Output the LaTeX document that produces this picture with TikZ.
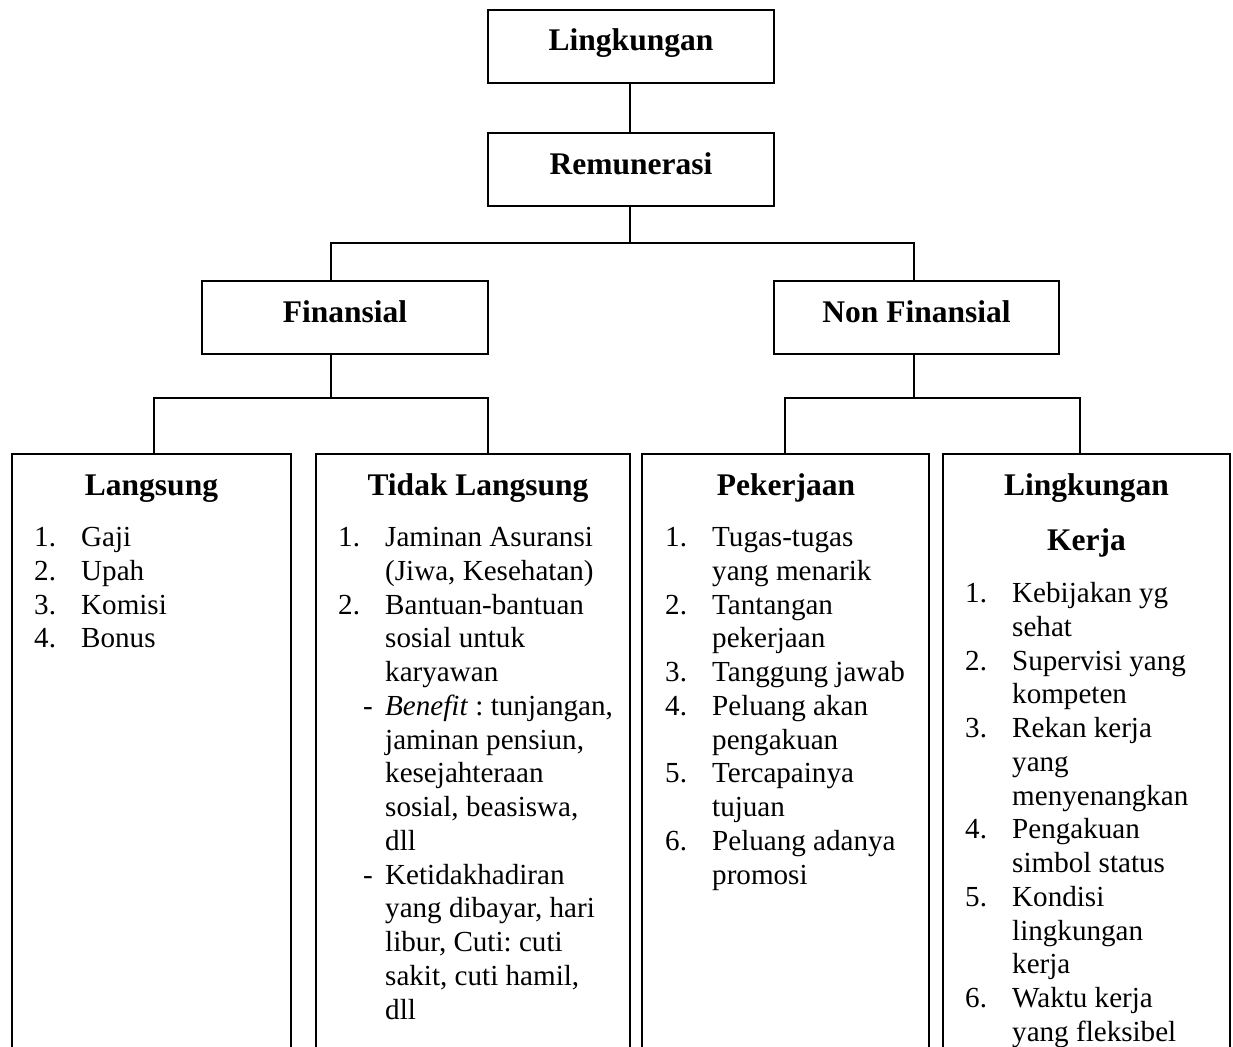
\documentclass[tikz,border=0pt]{standalone}
\usepackage{fontspec}
\setmainfont{Liberation Serif}
\frenchspacing
\newcommand{\headfont}{\fontsize{31.5pt}{36pt}\selectfont\bfseries}
\newcommand{\bodyfont}{\fontsize{29.1pt}{33.75pt}\selectfont\frenchspacing}
\newcommand{\nit}[2]{\makebox[47pt][l]{#1}#2}
\newcommand{\cit}[1]{\hspace*{47pt}#1}
\newcommand{\dit}[1]{\makebox[47pt][l]{\hspace*{25pt}-}#1}
\tikzset{
  box/.style={draw, line width=2pt, inner sep=0pt, outer sep=0pt,
    minimum width=286pt, minimum height=73pt, font=\headfont,
    text height=20.9pt, text depth=11.9pt},
  col/.style={draw, line width=2pt, inner sep=0pt, outer sep=0pt,
    anchor=north west, minimum height=640pt},
  conn/.style={line width=2pt},
  ttl/.style={anchor=base, inner sep=0pt, font=\headfont},
  lst/.style={anchor=base west, inner sep=0pt, font=\bodyfont},
}
\begin{document}
\begin{tikzpicture}[x=1pt, y=-1pt]
\useasboundingbox (0,0) rectangle (1233,1046);
\clip (0,0) rectangle (1233,1046);

% top boxes
\node[box] (ling) at (631,46.5) {Lingkungan};
\node[box] (rem) at (631,169.5) {Remunerasi};
\node[box] (fin) at (345,317.5) {Finansial};
\node[box, minimum width=285pt] (nonfin) at (916.5,317.5) {Non Finansial};

% bottom columns
\node[col, minimum width=279pt] (lang) at (12,454) {};
\node[col, minimum width=314pt] (tl) at (316,454) {};
\node[col, minimum width=287pt] (pek) at (642,454) {};
\node[col, minimum width=287pt] (lk) at (943,454) {};

% junction coordinates
\coordinate (b1) at (630,243);
\coordinate (b1L) at (331,243);
\coordinate (b1R) at (914,243);
\coordinate (bF) at (331,398);
\coordinate (bFL) at (154,398);
\coordinate (bFR) at (488,398);
\coordinate (bN) at (914,398);
\coordinate (bNL) at (785,398);
\coordinate (bNR) at (1080,398);

% connectors
\draw[conn] (ling.south -| b1) -- (rem.north -| b1);
\draw[conn] (rem.south -| b1) -- (b1);
\draw[conn] (fin.north -| b1L) -- (b1L) -- (b1R) -- (nonfin.north -| b1R);
\draw[conn] (fin.south -| bF) -- (bF);
\draw[conn] (lang.north -| bFL) -- (bFL) -- (bFR) -- (tl.north -| bFR);
\draw[conn] (nonfin.south -| bN) -- (bN);
\draw[conn] (pek.north -| bNL) -- (bNL) -- (bNR) -- (lk.north -| bNR);

% titles
\node[ttl] (tlang) at (151.5,495) {Langsung};
\node[ttl] (ttl) at (478,495) {Tidak Langsung};
\node[ttl] (tpek) at (786,495) {Pekerjaan};
\node[ttl] (tlk) at (1086.5,495) {\fontsize{31.5pt}{55pt}\selectfont\begin{tabular}[t]{@{}c@{}}Lingkungan\\Kerja\end{tabular}};

% lists
\node[lst] (llang) at (34,546.7) {\begin{tabular}[t]{@{}l@{}}
\nit{1.}{Gaji}\\
\nit{2.}{Upah}\\
\nit{3.}{Komisi}\\
\nit{4.}{Bonus}
\end{tabular}};

\node[lst] (ltl) at (338,546.7) {\begin{tabular}[t]{@{}l@{}}
\nit{1.}{Jaminan Asuransi}\\
\cit{(Jiwa, Kesehatan)}\\
\nit{2.}{Bantuan-bantuan}\\
\cit{sosial untuk}\\
\cit{karyawan}\\
\dit{\textit{Benefit} : tunjangan,}\\
\cit{jaminan pensiun,}\\
\cit{kesejahteraan}\\
\cit{sosial, beasiswa,}\\
\cit{dll}\\
\dit{Ketidakhadiran}\\
\cit{yang dibayar, hari}\\
\cit{libur, Cuti: cuti}\\
\cit{sakit, cuti hamil,}\\
\cit{dll}
\end{tabular}};

\node[lst] (lpek) at (665,546.7) {\begin{tabular}[t]{@{}l@{}}
\nit{1.}{Tugas-tugas}\\
\cit{yang menarik}\\
\nit{2.}{Tantangan}\\
\cit{pekerjaan}\\
\nit{3.}{Tanggung jawab}\\
\nit{4.}{Peluang akan}\\
\cit{pengakuan}\\
\nit{5.}{Tercapainya}\\
\cit{tujuan}\\
\nit{6.}{Peluang adanya}\\
\cit{promosi}
\end{tabular}};

\node[lst] (llk) at (965,602.5) {\begin{tabular}[t]{@{}l@{}}
\nit{1.}{Kebijakan yg}\\
\cit{sehat}\\
\nit{2.}{Supervisi yang}\\
\cit{kompeten}\\
\nit{3.}{Rekan kerja}\\
\cit{yang}\\
\cit{menyenangkan}\\
\nit{4.}{Pengakuan}\\
\cit{simbol status}\\
\nit{5.}{Kondisi}\\
\cit{lingkungan}\\
\cit{kerja}\\
\nit{6.}{Waktu kerja}\\
\cit{yang fleksibel}
\end{tabular}};
\end{tikzpicture}
\end{document}
